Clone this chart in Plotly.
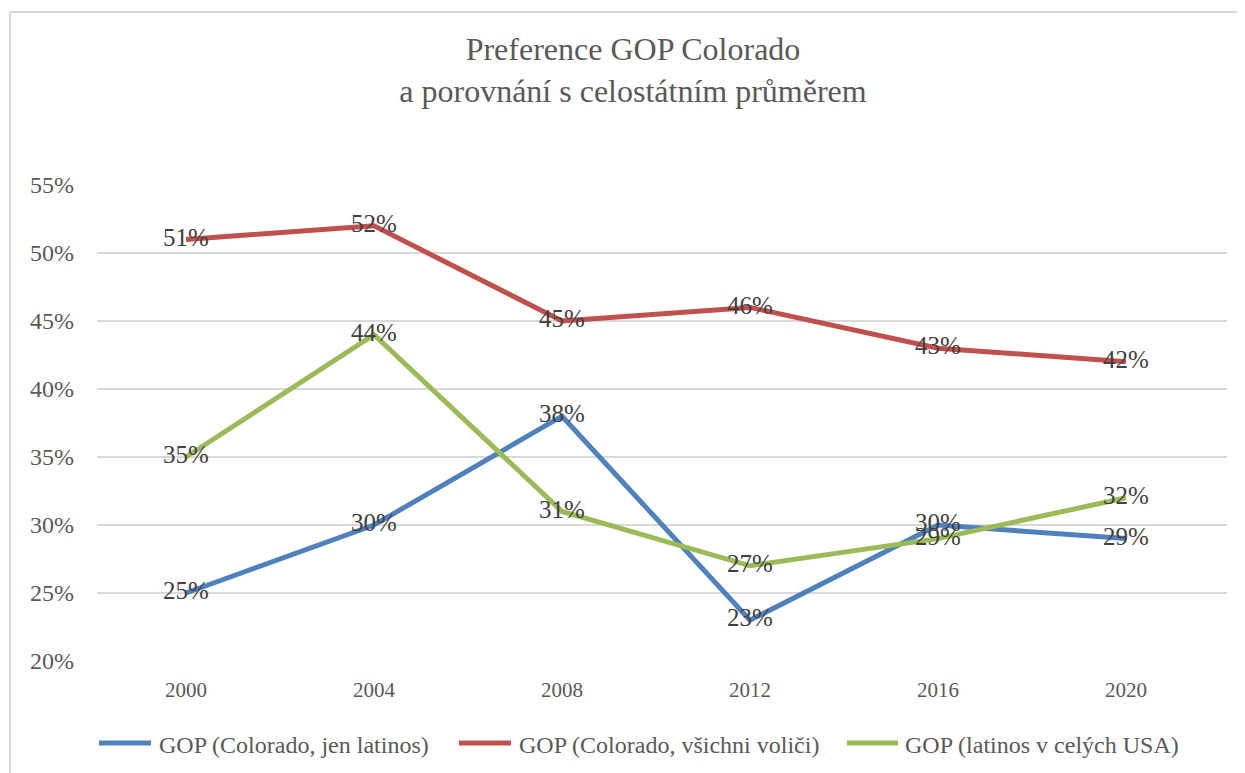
import plotly.graph_objects as go

years = ["2000", "2004", "2008", "2012", "2016", "2020"]
co_latinos = [0.25, 0.30, 0.38, 0.23, 0.30, 0.29]
co_all = [0.51, 0.52, 0.45, 0.46, 0.43, 0.42]
us_latinos = [0.35, 0.44, 0.31, 0.27, 0.29, 0.32]
y_ticks = [0.20, 0.25, 0.30, 0.35, 0.40, 0.45, 0.50, 0.55]

series = [
    ("GOP (Colorado, jen latinos)", co_latinos, "#4F81BD"),
    ("GOP (Colorado, všichni voliči)", co_all, "#C0504D"),
    ("GOP (latinos v celých USA)", us_latinos, "#9BBB59"),
]

FONT = "Liberation Serif"
fig = go.Figure()
for name, vals, color in series:
    fig.add_trace(go.Scatter(
        x=years, y=vals, name=name, mode="lines+text",
        line=dict(color=color, width=5),
        text=[f"{round(v*100)}%" for v in vals],
        textposition="middle center",
        textfont=dict(family=FONT, size=25, color="#404040"),
        cliponaxis=False, showlegend=False,
    ))

# page body has an 8px margin; work in figure coordinates
OFF = 8
W, H = 1245 - OFF, 773 - OFF
L, R, T, B = 97 - OFF, 1227 - OFF, 185 - OFF, 661 - OFF
def px(x): return (x - OFF - L) / (R - L)
def py(y): return (B - (y - OFF)) / (B - T)

# category centres at 186 .. 1126 screen px, 188 px apart
x0 = -(186 - 97) / 188
x1 = 5 + (1227 - 1126) / 188

shapes = [
    dict(type="line", xref="paper", yref="paper",
         x0=px(10), x1=px(10), y0=py(12), y1=py(773),
         line=dict(color="#D9D9D9", width=2)),
    dict(type="line", xref="paper", yref="paper",
         x0=px(10), x1=px(1244), y0=py(12), y1=py(12),
         line=dict(color="#D9D9D9", width=2)),
]
annotations = []
# custom legend: line sample then label (screen px positions)
legend_pos = [(97, 153, 157), (457, 513, 517), (845, 900, 903)]
for (name, _, color), (lx0, lx1, tx) in zip(series, legend_pos):
    shapes.append(dict(type="line", xref="paper", yref="paper",
                       x0=px(lx0 + 2), x1=px(lx1 - 2), y0=py(743), y1=py(743),
                       line=dict(color=color, width=5)))
    annotations.append(dict(text=name, xref="paper", yref="paper",
                            x=px(tx), y=py(745), xanchor="left", yanchor="middle",
                            showarrow=False,
                            font=dict(family=FONT, size=24, color="#595959")))

fig.update_layout(
    width=W, height=H,
    margin=dict(l=L, r=W - R, t=T, b=H - B, autoexpand=False),
    paper_bgcolor="white", plot_bgcolor="white",
    title=dict(
        text="Preference GOP Colorado<br>a porovnání s celostátním průměrem",
        x=(633 - OFF) / W, xanchor="center", xref="container",
        y=1 - (70 - OFF - 10) / H, yanchor="middle", yref="container",
        font=dict(family=FONT, size=32, color="#595959"),
    ),
    xaxis=dict(
        type="category", range=[x0, x1], showgrid=False, zeroline=False,
        showline=False, ticks="", ticklabelstandoff=14,
        tickfont=dict(family=FONT, size=21, color="#595959"),
    ),
    yaxis=dict(
        range=[0.2, 0.55], tickvals=y_ticks, tickformat=".0%",
        showgrid=True, gridcolor="#D9D9D9", gridwidth=1.5, zeroline=False,
        showline=False, ticks="", ticklabelstandoff=22,
        tickfont=dict(family=FONT, size=24, color="#595959"),
    ),
    showlegend=False,
    shapes=shapes,
    annotations=annotations,
)

fig.write_html("out.html")
